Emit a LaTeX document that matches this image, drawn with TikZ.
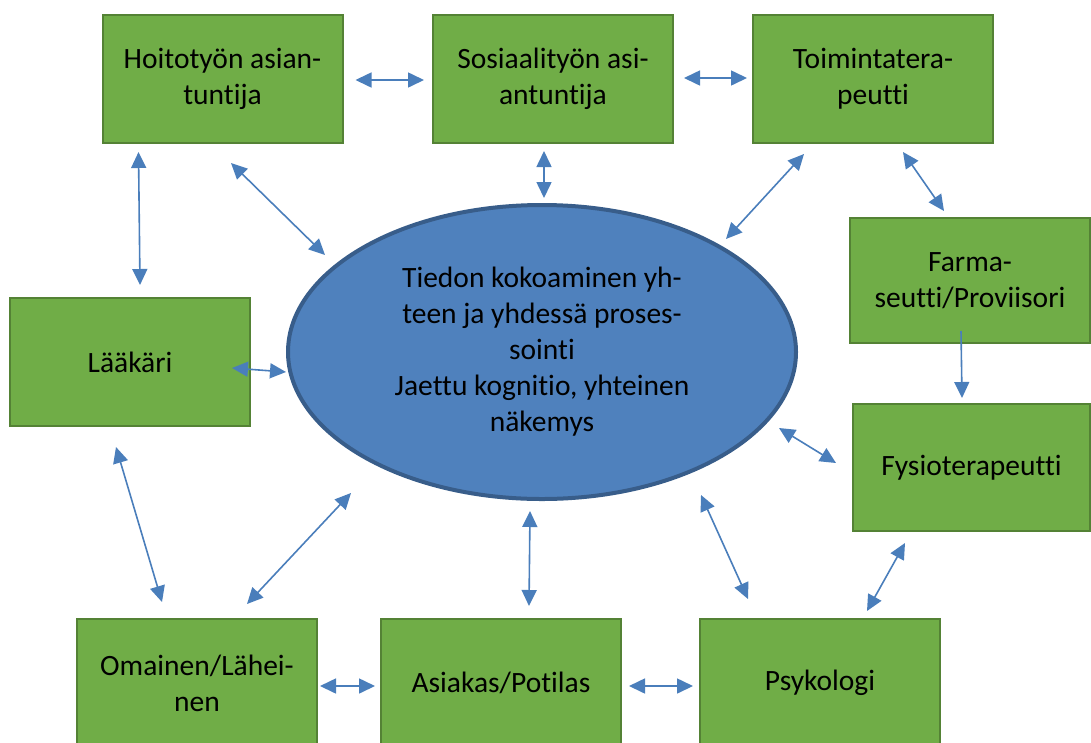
\documentclass[tikz,border=0pt]{standalone}
\usepackage{fontspec}
\setmainfont{Carlito}[Ligatures=NoCommon]
\usetikzlibrary{shapes.geometric,arrows.meta,calc}
\definecolor{boxfill}{HTML}{70AD47}
\definecolor{boxline}{HTML}{548235}
\definecolor{ellfill}{HTML}{4F81BD}
\definecolor{ellline}{HTML}{385D8A}
\definecolor{arrcol}{HTML}{4A7EBB}
\tikzset{
  box/.style={draw=boxline, line width=2pt, fill=boxfill, minimum width=240pt, minimum height=128pt, inner sep=0pt, align=center, font=\fontsize{29.5}{36}\selectfont},
  ell/.style={ellipse, draw=ellline, line width=4pt, fill=ellfill, minimum width=508pt, minimum height=294pt, inner sep=0pt, align=center, font=\fontsize{29.5}{36}\selectfont},
  arr/.style={draw=arrcol, line width=1.6pt, {Triangle[length=16pt,width=15pt]}-{Triangle[length=16pt,width=15pt]}},
  arrone/.style={draw=arrcol, line width=1.6pt, -{Triangle[length=16pt,width=15pt]}}
}
\begin{document}
\begin{tikzpicture}[x=1pt,y=-1pt]
\useasboundingbox (0,0) rectangle (1091,742);
\node[box] (hoit) at (222.5,79) {Hoitotyön asian-\\tuntija};
\node[box] (sos) at (553,79) {Sosiaalityön asi-\\antuntija};
\node[box] (toim) at (873,79) {Toimintatera-\\peutti};
\node[box, minimum height=125pt] (farma) at (970,280.5) {Farma-\\seutti/Proviisori};
\node[box, minimum width=237pt, minimum height=127pt] (fysio) at (971.5,467.5) {Fysioterapeutti};
\node[box] (laak) at (130,362) {Lääkäri};
\node[box] (omainen) at (197,683) {Omainen/Lähei-\\nen};
\node[box] (asiakas) at (501,683) {Asiakas/Potilas};
\node[box] (psyk) at (820,683) {Psykologi};
\node[ell] (ell) at (542,352) {Tiedon kokoaminen yh-\\teen ja yhdessä proses-\\sointi\\Jaettu kognitio, yhteinen\\näkemys};
% connectors
\draw[arr] ($(hoit.east)+(12,1)$) -- ($(sos.west)+(-8,1)$);
\draw[arr] ($(sos.east)+(10,-1)$) -- ($(toim.west)+(-5,-1)$);
\draw[arr] ($(hoit.south west)+(37,8)$) -- ($(laak.north)+(10,-12)$);
\draw[arr] ($(hoit.south)+(8.5,19)$) -- ($(ell.center)+(-217,-97)$);
\draw[arr] ($(sos.south)+(-9,7)$) -- ($(ell.north)+(2,-5)$);
\draw[arr] ($(toim.south west)+(52,10)$) -- ($(ell.center)+(184,-113)$);
\draw[arr] ($(toim.south)+(30,8)$) -- ($(farma.north west)+(95,-6)$);
\draw[arrone] ($(farma.south)+(-9,-13)$) -- ($(fysio.north)+(-9.5,-5)$);
\draw[arr] ($(laak.east)+(-19,6)$) -- ($(ell.west)+(0,20)$);
\draw[arr] ($(ell.center)+(237,76)$) -- ($(fysio.west)+(-16,-4.5)$);
\draw[arr] ($(laak.south)+(-14,20)$) -- ($(omainen.north west)+(86,-16)$);
\draw[arr] ($(omainen.north)+(50,-14)$) -- ($(ell.center)+(-191,141)$);
\draw[arr] ($(ell.south)+(-12,10)$) -- ($(asiakas.north)+(28,-12)$);
\draw[arr] ($(ell.center)+(159,143)$) -- ($(psyk.north west)+(49,-19)$);
\draw[arr] ($(fysio.south west)+(53,11)$) -- ($(psyk.north east)+(-74,-7)$);
\draw[arr] ($(omainen.east)+(2,3)$) -- ($(asiakas.west)+(-5,3)$);
\draw[arr] ($(asiakas.east)+(7,3)$) -- ($(psyk.west)+(-6,3)$);
\end{tikzpicture}
\end{document}
